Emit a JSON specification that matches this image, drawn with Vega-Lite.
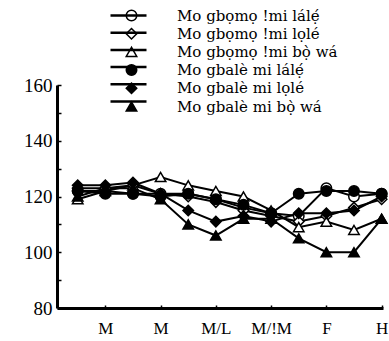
{
  "$schema": "https://vega.github.io/schema/vega-lite/v6.json",
  "width": 326,
  "height": 223,
  "autosize": {"type": "none"},
  "padding": {"left": 57, "top": 85, "right": 6, "bottom": 33},
  "background": "white",
  "config": {
    "view": {"stroke": null},
    "font": "Liberation Serif",
    "axis": {"grid": false, "domainColor": "black", "domainWidth": 3, "tickColor": "black", "labelColor": "black", "labelFont": "Liberation Serif", "title": null}
  },
  "data": {
    "values": [
      {"s": "Mo gbọmọ !mi lálẹ́", "x": 1, "v": 122}, {"s": "Mo gbọmọ !mi lálẹ́", "x": 2, "v": 122}, {"s": "Mo gbọmọ !mi lálẹ́", "x": 3, "v": 121}, {"s": "Mo gbọmọ !mi lálẹ́", "x": 4, "v": 121}, {"s": "Mo gbọmọ !mi lálẹ́", "x": 5, "v": 121}, {"s": "Mo gbọmọ !mi lálẹ́", "x": 6, "v": 119}, {"s": "Mo gbọmọ !mi lálẹ́", "x": 7, "v": 116}, {"s": "Mo gbọmọ !mi lálẹ́", "x": 8, "v": 114}, {"s": "Mo gbọmọ !mi lálẹ́", "x": 9, "v": 113}, {"s": "Mo gbọmọ !mi lálẹ́", "x": 10, "v": 123}, {"s": "Mo gbọmọ !mi lálẹ́", "x": 11, "v": 120}, {"s": "Mo gbọmọ !mi lálẹ́", "x": 12, "v": 121},
      {"s": "Mo gbọmọ !mi lọlé", "x": 1, "v": 123}, {"s": "Mo gbọmọ !mi lọlé", "x": 2, "v": 123}, {"s": "Mo gbọmọ !mi lọlé", "x": 3, "v": 124}, {"s": "Mo gbọmọ !mi lọlé", "x": 4, "v": 121}, {"s": "Mo gbọmọ !mi lọlé", "x": 5, "v": 120}, {"s": "Mo gbọmọ !mi lọlé", "x": 6, "v": 118}, {"s": "Mo gbọmọ !mi lọlé", "x": 7, "v": 115}, {"s": "Mo gbọmọ !mi lọlé", "x": 8, "v": 113}, {"s": "Mo gbọmọ !mi lọlé", "x": 9, "v": 111}, {"s": "Mo gbọmọ !mi lọlé", "x": 10, "v": 113}, {"s": "Mo gbọmọ !mi lọlé", "x": 11, "v": 116}, {"s": "Mo gbọmọ !mi lọlé", "x": 12, "v": 119},
      {"s": "Mo gbọmọ !mi bọ̀ wá", "x": 1, "v": 119}, {"s": "Mo gbọmọ !mi bọ̀ wá", "x": 2, "v": 122}, {"s": "Mo gbọmọ !mi bọ̀ wá", "x": 3, "v": 124}, {"s": "Mo gbọmọ !mi bọ̀ wá", "x": 4, "v": 127}, {"s": "Mo gbọmọ !mi bọ̀ wá", "x": 5, "v": 124}, {"s": "Mo gbọmọ !mi bọ̀ wá", "x": 6, "v": 122}, {"s": "Mo gbọmọ !mi bọ̀ wá", "x": 7, "v": 120}, {"s": "Mo gbọmọ !mi bọ̀ wá", "x": 8, "v": 115}, {"s": "Mo gbọmọ !mi bọ̀ wá", "x": 9, "v": 109}, {"s": "Mo gbọmọ !mi bọ̀ wá", "x": 10, "v": 111}, {"s": "Mo gbọmọ !mi bọ̀ wá", "x": 11, "v": 108}, {"s": "Mo gbọmọ !mi bọ̀ wá", "x": 12, "v": 112},
      {"s": "Mo gbalè mi  lálẹ́", "x": 1, "v": 122}, {"s": "Mo gbalè mi  lálẹ́", "x": 2, "v": 121}, {"s": "Mo gbalè mi  lálẹ́", "x": 3, "v": 121}, {"s": "Mo gbalè mi  lálẹ́", "x": 4, "v": 120}, {"s": "Mo gbalè mi  lálẹ́", "x": 5, "v": 121}, {"s": "Mo gbalè mi  lálẹ́", "x": 6, "v": 119}, {"s": "Mo gbalè mi  lálẹ́", "x": 7, "v": 117}, {"s": "Mo gbalè mi  lálẹ́", "x": 8, "v": 114}, {"s": "Mo gbalè mi  lálẹ́", "x": 9, "v": 121}, {"s": "Mo gbalè mi  lálẹ́", "x": 10, "v": 122}, {"s": "Mo gbalè mi  lálẹ́", "x": 11, "v": 122}, {"s": "Mo gbalè mi  lálẹ́", "x": 12, "v": 121},
      {"s": "Mo gbalè mi lọlé", "x": 1, "v": 124}, {"s": "Mo gbalè mi lọlé", "x": 2, "v": 124}, {"s": "Mo gbalè mi lọlé", "x": 3, "v": 125}, {"s": "Mo gbalè mi lọlé", "x": 4, "v": 121}, {"s": "Mo gbalè mi lọlé", "x": 5, "v": 115}, {"s": "Mo gbalè mi lọlé", "x": 6, "v": 111}, {"s": "Mo gbalè mi lọlé", "x": 7, "v": 113}, {"s": "Mo gbalè mi lọlé", "x": 8, "v": 111}, {"s": "Mo gbalè mi lọlé", "x": 9, "v": 114}, {"s": "Mo gbalè mi lọlé", "x": 10, "v": 114}, {"s": "Mo gbalè mi lọlé", "x": 11, "v": 115}, {"s": "Mo gbalè mi lọlé", "x": 12, "v": 120},
      {"s": "Mo gbalè mi bọ̀ wá", "x": 1, "v": 120}, {"s": "Mo gbalè mi bọ̀ wá", "x": 2, "v": 123}, {"s": "Mo gbalè mi bọ̀ wá", "x": 3, "v": 123}, {"s": "Mo gbalè mi bọ̀ wá", "x": 4, "v": 119}, {"s": "Mo gbalè mi bọ̀ wá", "x": 5, "v": 110}, {"s": "Mo gbalè mi bọ̀ wá", "x": 6, "v": 106}, {"s": "Mo gbalè mi bọ̀ wá", "x": 7, "v": 112}, {"s": "Mo gbalè mi bọ̀ wá", "x": 8, "v": 112}, {"s": "Mo gbalè mi bọ̀ wá", "x": 9, "v": 105}, {"s": "Mo gbalè mi bọ̀ wá", "x": 10, "v": 100}, {"s": "Mo gbalè mi bọ̀ wá", "x": 11, "v": 100}, {"s": "Mo gbalè mi bọ̀ wá", "x": 12, "v": 112}
    ]
  },
  "encoding": {
    "x": {
      "field": "x", "type": "quantitative",
      "scale": {"domain": [0.25, 12.05], "nice": false, "zero": false},
      "axis": {"values": [2, 4, 6, 8, 10, 12], "tickSize": -3, "tickWidth": 1.5, "labelPadding": 15, "labelFontSize": 17,
        "labelExpr": "{'2':'M','4':'M','6':'M/L','8':'M/!M','10':'F','12':'H'}[datum.value + '']"}
    },
    "y": {
      "field": "v", "type": "quantitative",
      "scale": {"domain": [80, 160], "nice": false, "zero": false},
      "axis": {"values": [80, 90, 100, 110, 120, 130, 140, 150, 160], "tickSize": -4, "tickWidth": 1.5, "labelPadding": 9, "labelFontSize": 19,
        "labelExpr": "datum.value % 20 == 0 ? datum.label : ''"}
    }
  },
  "layer": [
    {
      "mark": {"type": "line", "strokeWidth": 2},
      "encoding": {
        "color": {
          "field": "s", "type": "nominal",
          "scale": {"domain": ["Mo gbọmọ !mi lálẹ́", "Mo gbọmọ !mi lọlé", "Mo gbọmọ !mi bọ̀ wá", "Mo gbalè mi  lálẹ́", "Mo gbalè mi lọlé", "Mo gbalè mi bọ̀ wá"], "range": ["black", "black", "black", "black", "black", "black"]},
          "legend": {"orient": "none", "legendX": 64, "legendY": -77, "title": null, "symbolType": "M-4,0H4", "symbolSize": 81, "symbolStrokeWidth": 2.5, "symbolStrokeColor": "black", "labelExpr": "''", "rowPadding": 1.2, "labelFontSize": 15, "labelFont": "DejaVu Serif", "labelLimit": 300, "padding": 0}
        }
      }
    },
    {
      "mark": {"type": "point", "filled": true, "stroke": "black", "strokeWidth": 1.5, "size": 110, "opacity": 1},
      "encoding": {
        "shape": {
          "field": "s", "type": "nominal",
          "scale": {"domain": ["Mo gbọmọ !mi lálẹ́", "Mo gbọmọ !mi lọlé", "Mo gbọmọ !mi bọ̀ wá", "Mo gbalè mi  lálẹ́", "Mo gbalè mi lọlé", "Mo gbalè mi bọ̀ wá"], "range": ["circle", "diamond", "triangle-up", "circle", "diamond", "triangle-up"]},
          "legend": {"orient": "none", "legendX": 67, "legendY": -77, "title": null, "symbolSize": 110, "symbolStrokeWidth": 1.5, "symbolStrokeColor": "black", "labelFontSize": 15, "labelFont": "DejaVu Serif", "labelColor": "black", "labelOffset": 38, "labelLimit": 300, "rowPadding": 1.2, "padding": 0, "symbolOpacity": 1, "symbolFillColor": "black"}
        },
        "fill": {
          "field": "s", "type": "nominal",
          "scale": {"domain": ["Mo gbọmọ !mi lálẹ́", "Mo gbọmọ !mi lọlé", "Mo gbọmọ !mi bọ̀ wá", "Mo gbalè mi  lálẹ́", "Mo gbalè mi lọlé", "Mo gbalè mi bọ̀ wá"], "range": ["white", "white", "white", "black", "black", "black"]},
          "legend": {"orient": "none", "legendX": 67, "legendY": -77, "title": null, "symbolSize": 110, "symbolStrokeWidth": 1.5, "symbolStrokeColor": "black", "labelFontSize": 15, "labelFont": "DejaVu Serif", "labelColor": "black", "labelOffset": 38, "labelLimit": 300, "rowPadding": 1.2, "padding": 0, "symbolOpacity": 1}
        }
      }
    }
  ],
  "resolve": {"legend": {"color": "independent"}}
}
